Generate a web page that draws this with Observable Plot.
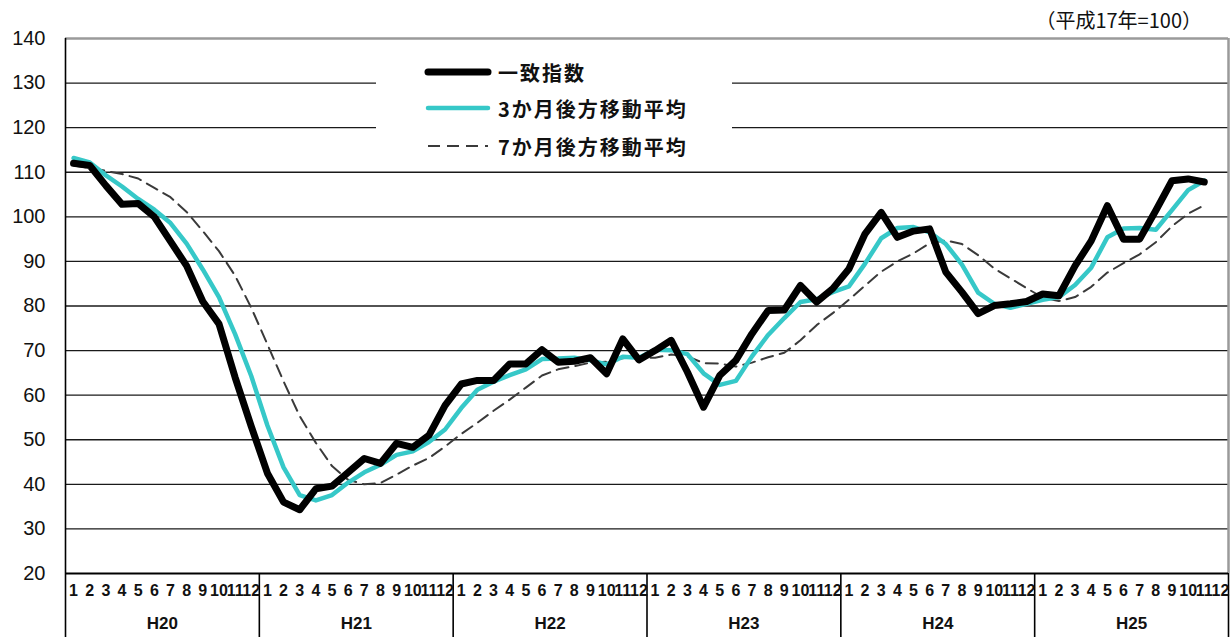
<!DOCTYPE html>
<html><head><meta charset="utf-8">
<script src="https://cdn.jsdelivr.net/npm/d3@7"></script>
<script src="https://cdn.jsdelivr.net/npm/@observablehq/plot@0.6"></script>
<style>
body{margin:0;background:#fff;}
#wrap{position:relative;width:1232px;height:637px;font-family:"Liberation Sans","Noto Sans CJK JP",sans-serif;color:#111;}
#unit{position:absolute;right:30px;top:5px;font-size:20px;font-family:"Noto Sans CJK JP","Liberation Sans",sans-serif;}
#legend{position:absolute;left:376px;top:40px;width:356px;height:126px;background:#fff;}
.item{position:absolute;left:48px;height:30px;display:flex;align-items:center;font-family:"Noto Sans CJK JP",sans-serif;font-weight:bold;font-size:20px;letter-spacing:2px;}
.item svg{margin-right:6px;}
</style></head>
<body><div id="wrap"></div>
<script>
const years = ["H20","H21","H22","H23","H24","H25"];
const monthLabels = ["1","2","3","4","5","6","7","8","9","10","11","12"];
const seriesNames = ["一致指数","3か月後方移動平均","7か月後方移動平均"];
const unitLabel = "（平成17年=100）";
const yTicks = [20,30,40,50,60,70,80,90,100,110,120,130,140];

const coincident = [
  112,111.5,107,102.8,103,100,94.5,89,81,76,64,53,
  42.5,36,34.3,39,39.6,42.7,45.8,44.7,49.2,48.3,51,57.7,
  62.5,63.3,63.3,67,67,70.2,67.4,67.6,68.4,64.8,72.6,67.9,
  70,72.3,65.2,57.3,64.4,67.8,73.8,79,79.1,84.6,80.9,83.9,
  88.3,96.2,101,95.4,96.8,97.3,87.6,83.1,78.3,80.1,80.5,81,
  82.7,82.3,89,94.6,102.5,95,95,101.4,108.1,108.5,107.8
];
const ma3 = [
  113.2,112.2,109.3,106.8,104,101.6,98.6,94,88.2,82,73.7,64.3,
  53.2,43.8,37.6,36.4,37.6,40.4,42.7,44.4,46.6,47.4,49.5,52.3,
  57.1,61.2,63,64.5,65.8,68.1,68.2,68.4,67.8,66.9,68.6,68.4,
  70.2,70.1,69.2,64.9,62.3,63.2,68.7,73.5,77.3,80.9,81.5,83.1,
  84.4,89.5,95.2,97.5,97.7,96.5,93.9,89.3,83,80.5,79.6,80.5,
  81.4,82,84.7,88.6,95.4,97.4,97.5,97.1,101.5,106,108.1
];
const ma7 = [
  111.5,111,110.3,109.6,108.6,106.5,104.4,101.1,96.8,92.3,86.8,79.6,
  71.4,63.1,55.3,49.3,44.1,41,40,40.3,42.2,44.2,45.9,48.5,
  51.3,53.8,56.5,59,61.7,64.4,65.8,66.5,67.3,67.5,68.3,68.4,
  68.4,69.1,68.7,67.2,67.1,66.4,67.3,68.5,69.5,72.3,75.7,78.4,
  81.4,84.6,87.7,90,91.8,94.1,94.7,93.9,91.4,88.4,86.2,84,
  81.9,81.1,82,84.3,87.5,89.6,91.6,94.3,97.9,100.7,102.6
];

const nMonths = years.length * 12;
const toRows = arr => arr.map((v, i) => ({t: i + 0.5, v}));
const monthPos = d3.range(nMonths).map(i => i + 0.5);
const yearBounds = d3.range(years.length + 1).map(i => i * 12);
const yearCenters = years.map((_, i) => i * 12 + 6);

const styles = {
  black: {stroke: "#000", strokeWidth: 7},
  cyan: {stroke: "#36c8c8", strokeWidth: 4.5},
  dash: {stroke: "#3a3a3a", strokeWidth: 2, strokeDasharray: "12,7"}
};

const chart = Plot.plot({
  width: 1232, height: 637,
  marginLeft: 65, marginRight: 4, marginTop: 38, marginBottom: 64,
  style: {fontFamily: "Liberation Sans, sans-serif", color: "#111", background: "transparent"},
  x: {domain: [0, nMonths], label: null},
  y: {domain: [20, 140], label: null},
  marks: [
    Plot.ruleY(yTicks.filter(d => d > 20 && d < 140), {stroke: "#1a1a1a", strokeWidth: 1.4}),
    Plot.ruleY([140], {stroke: "#9a9a9a", strokeWidth: 2.5}),
    Plot.ruleX([nMonths], {stroke: "#9a9a9a", strokeWidth: 2.5}),
    Plot.ruleX([0], {stroke: "#000", strokeWidth: 1.6}),
    Plot.axisY(yTicks, {label: null, tickSize: 0, tickPadding: 20, fontSize: 20, tickFormat: d => String(d)}),
    Plot.axisX(yearBounds, {label: null, anchor: "bottom", tickSize: 64, tickFormat: () => "", stroke: "#000", strokeWidth: 1.6}),
    Plot.axisX(monthPos, {label: null, anchor: "bottom", tickSize: 0, tickPadding: 11, fontSize: 16, fontWeight: "bold", tickFormat: d => monthLabels[Math.floor(d) % 12]}),
    Plot.axisX(yearCenters, {label: null, anchor: "bottom", tickSize: 0, tickPadding: 43, fontSize: 17, fontWeight: "bold", tickFormat: d => years[Math.floor(d / 12)]}),
    Plot.ruleY([20], {stroke: "#000", strokeWidth: 2}),
    Plot.line(toRows(ma7), {x: "t", y: "v", ...styles.dash}),
    Plot.line(toRows(ma3), {x: "t", y: "v", ...styles.cyan}),
    Plot.line(toRows(coincident), {x: "t", y: "v", ...styles.black})
  ]
});

const wrap = document.getElementById("wrap");
wrap.appendChild(chart);

const unit = document.createElement("div");
unit.id = "unit"; unit.textContent = unitLabel;
wrap.appendChild(unit);

const legend = document.createElement("div");
legend.id = "legend";
const legendStyles = [styles.black, styles.cyan, styles.dash];
const rowTops = [17, 53, 91];
seriesNames.forEach((name, i) => {
  const item = document.createElement("div");
  item.className = "item";
  item.style.top = rowTops[i] + "px";
  const s = legendStyles[i];
  item.innerHTML = `<svg width="68" height="12"><line x1="4" x2="64" y1="6" y2="6" stroke="${s.stroke}" stroke-width="${s.strokeWidth}" stroke-linecap="${i === 2 ? 'butt' : 'round'}" ${s.strokeDasharray ? `stroke-dasharray="${s.strokeDasharray}"` : ""}/></svg><span>${name}</span>`;
  legend.appendChild(item);
});
wrap.appendChild(legend);
</script>
</body></html>
